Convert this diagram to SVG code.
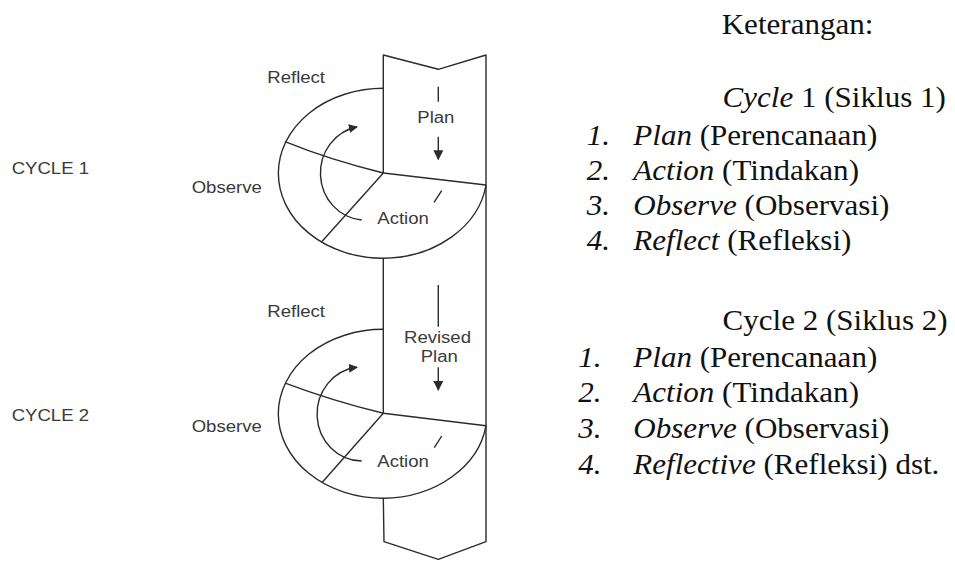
<svg xmlns="http://www.w3.org/2000/svg" width="955" height="561" viewBox="0 0 955 561">
<style>
.ln{fill:none;stroke:#2b2b2b;stroke-width:1.4;stroke-linejoin:round}
.sans{font-family:"Liberation Sans",Arial,sans-serif;font-size:16px;fill:#3a3a3a}
.serif{font-family:"Liberation Serif","Times New Roman",serif;font-size:28.5px;fill:#111}
.it{font-style:italic}
</style>
<defs>
<marker id="ah" viewBox="0 0 10 10" refX="9" refY="5" markerWidth="9" markerHeight="9" markerUnits="userSpaceOnUse" orient="auto">
<path d="M0,0 L10,5 L0,10 z" fill="#2b2b2b"/>
</marker>
<marker id="ad" viewBox="0 0 10 10" refX="9" refY="5" markerWidth="10" markerHeight="10" markerUnits="userSpaceOnUse" orient="auto">
<path d="M0,0 L10,5 L0,10 z" fill="#2b2b2b"/>
</marker>
</defs>
<rect width="955" height="561" fill="#fff"/>

<g id="column">
<path class="ln" d="M383.3,173 L383.3,55 L438.3,69.3 L486,55 L486,541.7 L438.3,559.3 L384,541.7 L383.3,498.3"/>
<path class="ln" d="M383.3,258.3 L383.3,413.3"/>
</g>

<g id="cycle1">
<path class="ln" d="M383.3,88.3 A105,85 0 0 0 383.3,258.3 A105,85 0 0 0 486,185"/>
<path class="ln" d="M383.3,173 L486,185"/>
<path class="ln" d="M383.3,173 Q330,160 285,141.7"/>
<path class="ln" d="M383.3,173 L321.7,241.7"/>
<path class="ln" d="M438.3,86.7 L438.3,101.7"/>
<path class="ln" d="M441.7,190.7 L434,202.3"/>
<text class="sans" transform="translate(267.3,82.5) scale(1.16,1)">Reflect</text>
<text class="sans" transform="translate(191.7,192.5) scale(1.16,1)">Observe</text>
<text class="sans" transform="translate(417.3,123) scale(1.16,1)">Plan</text>
<text class="sans" transform="translate(377.3,224) scale(1.16,1)">Action</text>
<text class="sans" transform="translate(11.7,174.3) scale(1.16,1)">CYCLE 1</text>
</g>

<g id="cycle2">
<path class="ln" d="M383.3,329.3 A105,84.5 0 0 0 383.3,498.3 A105,84.5 0 0 0 486,425.7"/>
<path class="ln" d="M383.3,413.3 L486,425.7"/>
<path class="ln" d="M383.3,413.3 Q330,400 286,383.3"/>
<path class="ln" d="M383.3,413.3 L322.3,482.3"/>
<path class="ln" d="M438.3,285 L438.3,326.7"/>
<path class="ln" d="M441.7,436 L434.3,447.7"/>
<text class="sans" transform="translate(267.3,316.5) scale(1.16,1)">Reflect</text>
<text class="sans" transform="translate(191.7,431.5) scale(1.16,1)">Observe</text>
<text class="sans" transform="translate(404,343) scale(1.16,1)">Revised</text>
<text class="sans" transform="translate(420.7,361.5) scale(1.16,1)">Plan</text>
<text class="sans" transform="translate(377.3,466.5) scale(1.16,1)">Action</text>
<text class="sans" transform="translate(11.7,421) scale(1.16,1)">CYCLE 2</text>
</g>

<g id="connectors">
<path class="ln" d="M361.7,220 A45,47 0 0 1 357,127" marker-end="url(#ah)"/>
<path class="ln" d="M438.3,136.7 L438.3,159.3" marker-end="url(#ad)"/>
<path class="ln" d="M361.7,461 A45,47 0 0 1 357,367.3" marker-end="url(#ah)"/>
<path class="ln" d="M438.3,367.3 L438.3,390" marker-end="url(#ad)"/>
</g>

<g id="legend">
<text class="serif" transform="translate(721.7,33.5) scale(1.09,1)">Keterangan:</text>
<text class="serif" transform="translate(722.5,107) scale(1.09,1)"><tspan class="it">Cycle</tspan> 1 (Siklus 1)</text>
<text class="serif it" transform="translate(586.7,145) scale(1.09,1)">1.</text>
<text class="serif" transform="translate(633.3,145) scale(1.09,1)"><tspan class="it">Plan</tspan> (Perencanaan)</text>
<text class="serif it" transform="translate(586.7,180) scale(1.09,1)">2.</text>
<text class="serif" transform="translate(633.3,180) scale(1.09,1)"><tspan class="it">Action</tspan> (Tindakan)</text>
<text class="serif it" transform="translate(586.7,215) scale(1.09,1)">3.</text>
<text class="serif" transform="translate(633.3,215) scale(1.09,1)"><tspan class="it">Observe</tspan> (Observasi)</text>
<text class="serif it" transform="translate(586.7,250) scale(1.09,1)">4.</text>
<text class="serif" transform="translate(633.3,250) scale(1.09,1)"><tspan class="it">Reflect</tspan> (Refleksi)</text>

<text class="serif" transform="translate(722.5,330) scale(1.09,1)">Cycle 2 (Siklus 2)</text>
<text class="serif it" transform="translate(578.3,366.7) scale(1.09,1)">1.</text>
<text class="serif" transform="translate(633.3,366.7) scale(1.09,1)"><tspan class="it">Plan</tspan> (Perencanaan)</text>
<text class="serif it" transform="translate(578.3,402.3) scale(1.09,1)">2.</text>
<text class="serif" transform="translate(633.3,402.3) scale(1.09,1)"><tspan class="it">Action</tspan> (Tindakan)</text>
<text class="serif it" transform="translate(578.3,438) scale(1.09,1)">3.</text>
<text class="serif" transform="translate(633.3,438) scale(1.09,1)"><tspan class="it">Observe</tspan> (Observasi)</text>
<text class="serif it" transform="translate(578.3,474) scale(1.09,1)">4.</text>
<text class="serif" transform="translate(633.3,474) scale(1.09,1)"><tspan class="it">Reflective</tspan> (Refleksi) dst.</text>
</g>
</svg>
